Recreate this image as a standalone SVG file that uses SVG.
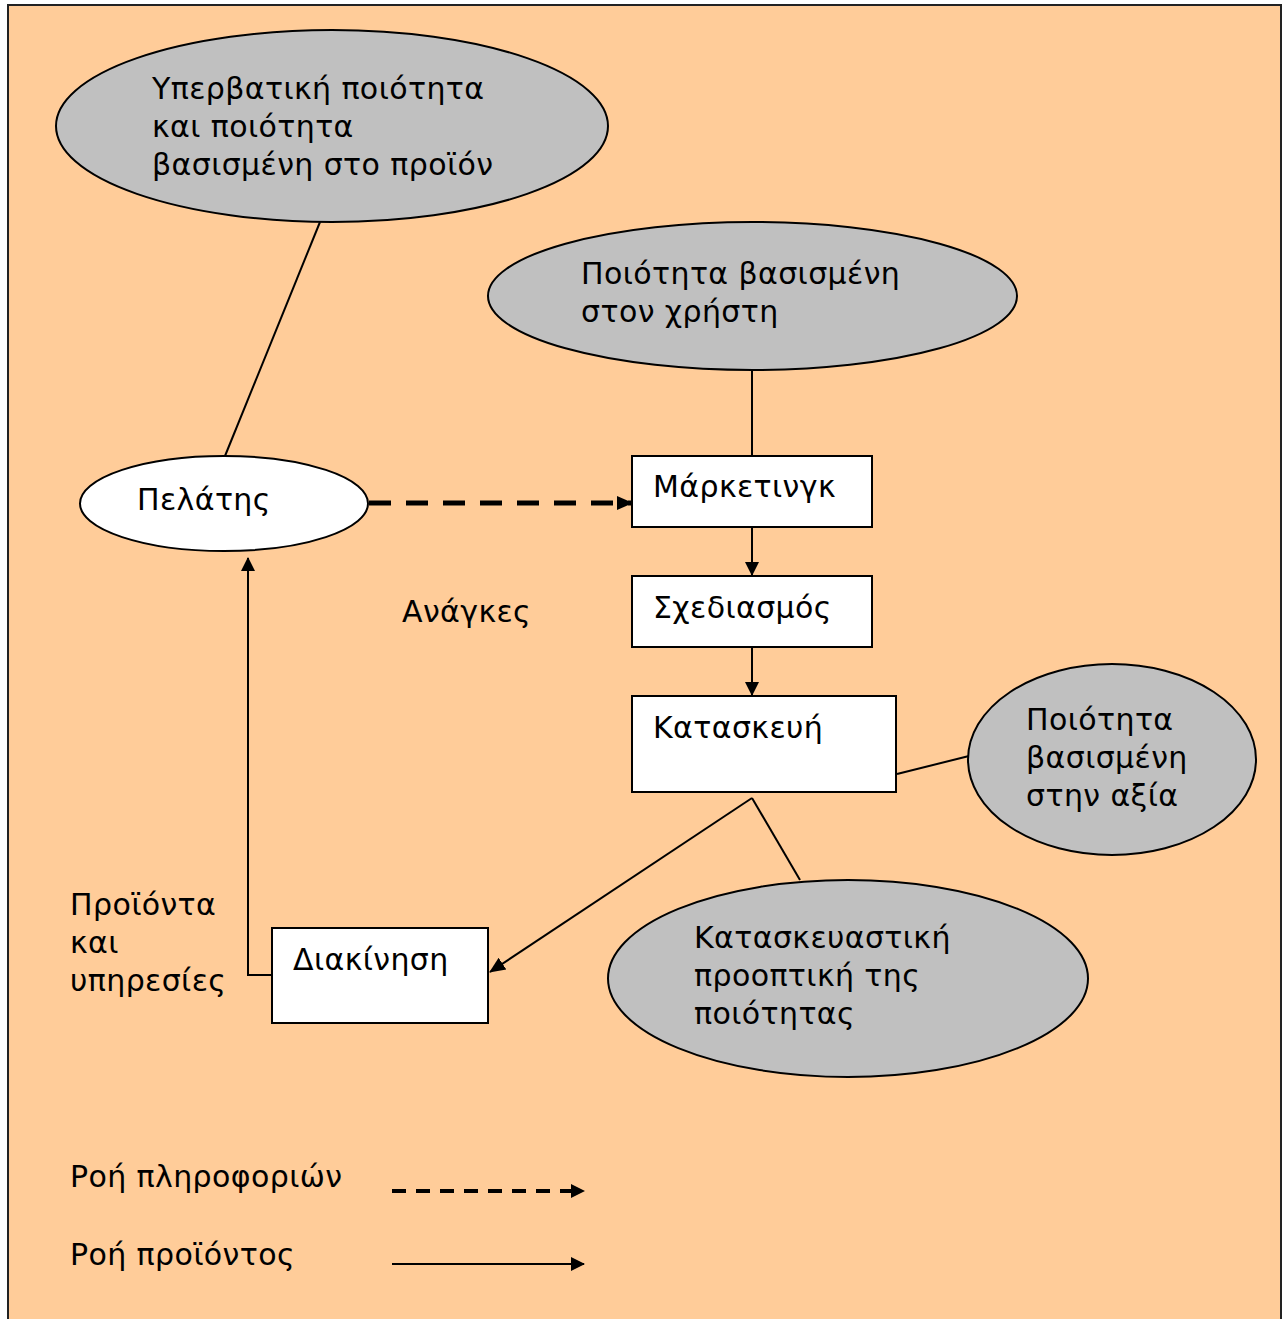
<svg xmlns="http://www.w3.org/2000/svg" width="1286" height="1319" viewBox="0 0 1286 1319">
<defs>
<marker id="ah2" markerWidth="14" markerHeight="14" refX="13" refY="7" orient="auto" markerUnits="userSpaceOnUse" viewBox="0 0 14 14">
<path d="M0,0 L14,7 L0,14 Z" fill="#000"/>
</marker>
<marker id="ah3" markerWidth="16" markerHeight="16" refX="15" refY="8" orient="auto" markerUnits="userSpaceOnUse" viewBox="0 0 16 16">
<path d="M0,1 L16,8 L0,15 Z" fill="#000"/>
</marker>
<style>
text{font-family:"DejaVu Sans",Verdana,sans-serif;font-size:30px;letter-spacing:0.4px;fill:#000}
.gray{fill:#C0C0C0;stroke:#000;stroke-width:2}
.white{fill:#fff;stroke:#000;stroke-width:2}
.ln{fill:none;stroke:#000;stroke-width:2}
</style>
</defs>
<rect x="0" y="0" width="1286" height="1319" fill="#fff"/>
<rect x="8" y="5" width="1273" height="1330" fill="#FFCC99" stroke="#222" stroke-width="2"/>
<g id="connectors">
<line class="ln" x1="320" y1="222" x2="225" y2="456"/>
<line class="ln" x1="752" y1="370" x2="752" y2="456"/>
<line x1="369" y1="503" x2="632" y2="503" stroke="#000" stroke-width="5" stroke-dasharray="22,15" marker-end="url(#ah3)"/>
<line class="ln" x1="752" y1="528" x2="752" y2="575" marker-end="url(#ah2)"/>
<line class="ln" x1="752" y1="648" x2="752" y2="695" marker-end="url(#ah2)"/>
<line class="ln" x1="897" y1="774" x2="969" y2="756"/>
<line class="ln" x1="752" y1="798" x2="490" y2="972" marker-end="url(#ah3)"/>
<line class="ln" x1="752" y1="798" x2="800" y2="880"/>
<polyline class="ln" points="272,975 248,975 248,558" marker-end="url(#ah2)"/>
</g>
<g id="n-transcendent">
<ellipse class="gray" cx="332" cy="126" rx="276" ry="96"/>
<text x="152" y="99">Υπερβατική ποιότητα</text>
<text x="152" y="137">και ποιότητα</text>
<text x="152" y="175">βασισμένη στο προϊόν</text>
</g>
<g id="n-user">
<ellipse class="gray" cx="752.5" cy="296" rx="264.5" ry="74"/>
<text x="581" y="284">Ποιότητα βασισμένη</text>
<text x="581" y="322">στον χρήστη</text>
</g>
<g id="n-customer">
<ellipse class="white" cx="224" cy="503.5" rx="144" ry="47.5"/>
<text x="137" y="510">Πελάτης</text>
</g>
<g id="n-marketing">
<rect class="white" x="632" y="456" width="240" height="71"/>
<text x="653" y="497">Μάρκετινγκ</text>
</g>
<g id="n-design">
<rect class="white" x="632" y="576" width="240" height="71"/>
<text x="653" y="618">Σχεδιασμός</text>
</g>
<g id="n-manufacture">
<rect class="white" x="632" y="696" width="264" height="96"/>
<text x="653" y="738">Κατασκευή</text>
</g>
<g id="n-value">
<ellipse class="gray" cx="1112" cy="759.5" rx="144" ry="95.5"/>
<text x="1026" y="730">Ποιότητα</text>
<text x="1026" y="768">βασισμένη</text>
<text x="1026" y="806">στην αξία</text>
</g>
<g id="n-manuf-persp">
<ellipse class="gray" cx="848" cy="978.5" rx="240" ry="98.5"/>
<text x="694" y="948">Κατασκευαστική</text>
<text x="694" y="986">προοπτική της</text>
<text x="694" y="1024">ποιότητας</text>
</g>
<g id="n-distribution">
<rect class="white" x="272" y="928" width="216" height="95"/>
<text x="293" y="970">Διακίνηση</text>
</g>
<g id="labels">
<text x="402" y="622">Ανάγκες</text>
<text x="70" y="915">Προϊόντα</text>
<text x="70" y="953">και</text>
<text x="70" y="991">υπηρεσίες</text>
</g>
<g id="legend">
<text x="70" y="1187">Ροή πληροφοριών</text>
<line x1="392" y1="1191" x2="584" y2="1191" stroke="#000" stroke-width="4" stroke-dasharray="14,10" marker-end="url(#ah2)"/>
<text x="70" y="1265">Ροή προϊόντος</text>
<line class="ln" x1="392" y1="1264" x2="584" y2="1264" marker-end="url(#ah2)"/>
</g>
</svg>
